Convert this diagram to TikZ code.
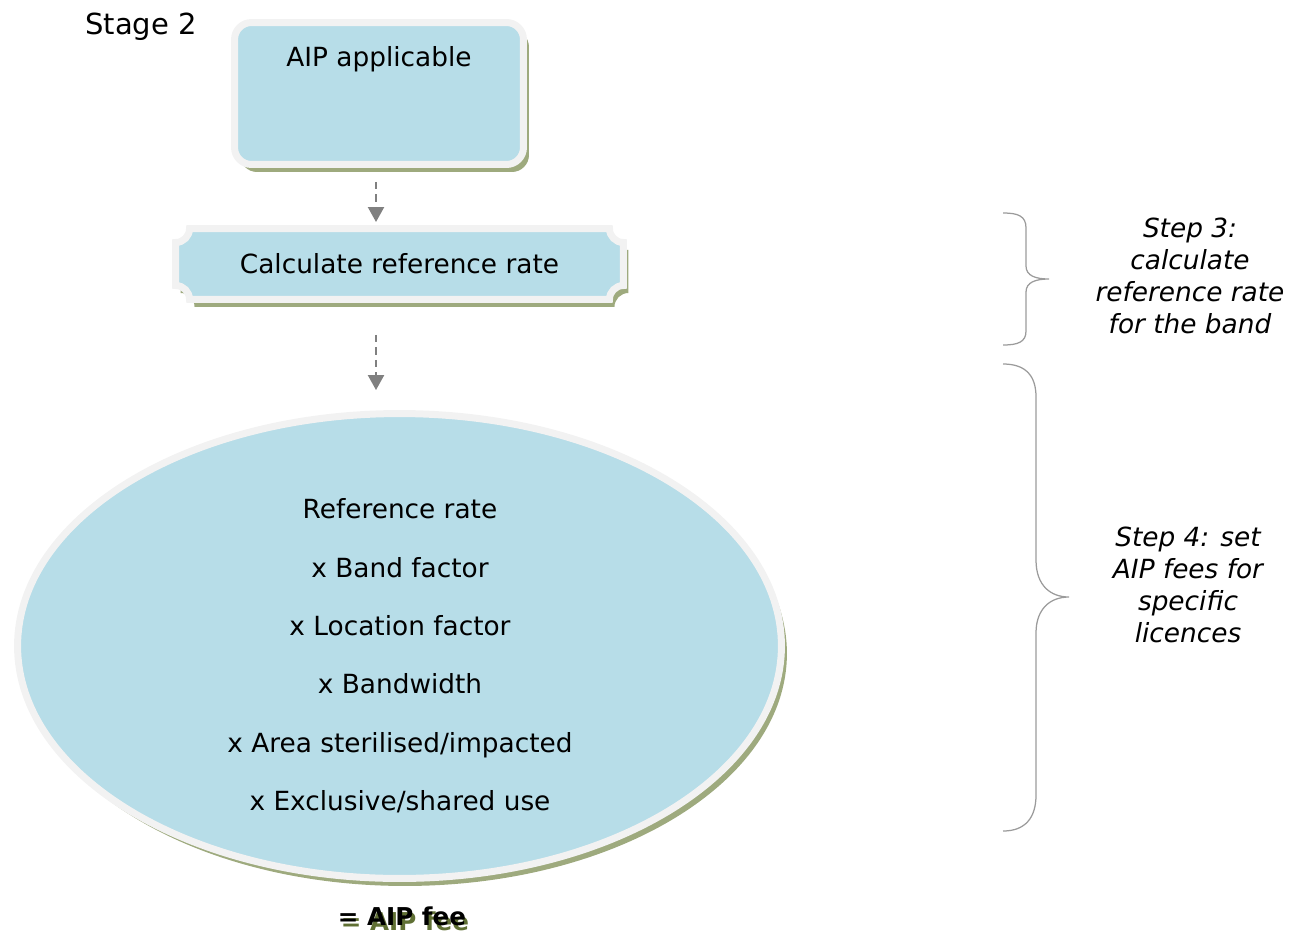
\documentclass[tikz,border=0pt]{standalone}
\usepackage{fontspec}
\setmainfont{DejaVu Sans}
\usetikzlibrary{shapes.geometric, arrows.meta, shadows, backgrounds}
\definecolor{boxblue}{RGB}{183, 221, 232}
\definecolor{rimgrey}{RGB}{242, 242, 242}
\definecolor{shadegreen}{RGB}{158, 170, 126}
\definecolor{feegreen}{RGB}{96, 112, 52}
\definecolor{arrowgrey}{RGB}{128, 128, 128}
\definecolor{bracegrey}{RGB}{155, 155, 155}
\newcommand{\shadowtext}[1]{\makebox[0pt][l]{\raisebox{-0.1cm}{\hspace{0.06cm}\textcolor{feegreen}{#1}}}#1}
\newcommand{\plaque}[2]{([yshift=-#2]#1.north west) arc[start angle=-90, end angle=0, radius=#2]
  -- ([xshift=-#2]#1.north east) arc[start angle=180, end angle=270, radius=#2]
  -- ([yshift=#2]#1.south east) arc[start angle=90, end angle=180, radius=#2]
  -- ([xshift=#2]#1.south west) arc[start angle=0, end angle=90, radius=#2] -- cycle}

\begin{document}
\begin{tikzpicture}[
  x=0.02cm, y=-0.02cm,
  shade/.style={drop shadow={shadow xshift=0.11cm, shadow yshift=-0.15cm, fill=shadegreen, opacity=1}},
  aipbox/.style={rectangle, rounded corners=0.34cm, draw=rimgrey, line width=0.14cm, fill=boxblue,
                 minimum width=5.78cm, minimum height=2.84cm, inner sep=0pt, shade},
  calcbox/.style={rectangle, minimum width=8.96cm, minimum height=1.42cm, inner sep=0pt, outer sep=0pt,
                  font=\fontsize{15}{18}\selectfont},
  termellipse/.style={ellipse, draw=rimgrey, line width=0.14cm, fill=boxblue,
                      minimum width=15.28cm, minimum height=9.3cm, inner sep=0pt, shade},
  boxtext/.style={font=\fontsize{15}{18}\selectfont, align=center, inner sep=0pt},
  termtext/.style={font=\fontsize{15}{33.2}\selectfont, align=center, inner sep=0pt},
  steptext/.style={font=\fontsize{15}{18.1}\selectfont\itshape, align=center, inner sep=0pt},
  flow/.style={-{Triangle[length=0.3cm, width=0.32cm]}, arrowgrey, line width=0.045cm,
               dash pattern=on 0.15cm off 0.1cm},
  brace/.style={bracegrey, line width=0.025cm}
]
  \useasboundingbox (0,0) rectangle (1293,936);

  \node[font=\fontsize{16.5}{20}\selectfont, inner sep=0pt] (stage) at (141,27) {Stage 2};

  \node[aipbox] (aip) at (379,93.5) {};
  \node[boxtext] (aiptext) at (379,59) {AIP applicable};

  \node[calcbox] (calc) at (399.5,264) {Calculate reference rate};
  \begin{pgfonlayer}{background}
    \fill[shadegreen, transform canvas={xshift=0.1cm, yshift=-0.15cm}] \plaque{calc}{0.28cm};
    \filldraw[fill=boxblue, draw=rimgrey, line width=0.14cm] \plaque{calc}{0.28cm};
  \end{pgfonlayer}

  \node[termellipse] (terms) at (399.5,646) {};
  \node[termtext] (factors) at (400,656) {Reference rate\\x Band factor\\x Location factor\\x Bandwidth\\x Area sterilised/impacted\\x Exclusive/shared use};

  \node[font=\fontsize{14}{17}\selectfont\bfseries, inner sep=0pt] (fee) at (402,919) {\shadowtext{= AIP fee}};

  \coordinate (spine) at (376,0);
  \draw[flow, shorten <=0.28cm, shorten >=0.13cm] (aip.south -| spine) -- (calc.north -| spine);
  \draw[flow, shorten <=0.71cm, shorten >=0.4cm] (calc.south -| spine) -- (terms.north -| spine);

  \draw[brace] (1003,213) .. controls (1018,213) and (1026,216) .. (1026,228) -- (1026,266)
    .. controls (1026,276) and (1036,279) .. (1049,279) .. controls (1036,279) and (1026,282) .. (1026,292)
    -- (1026,331) .. controls (1026,342) and (1018,345) .. (1003,345);
  \draw[brace] (1003,364) .. controls (1025,364) and (1036,375) .. (1036,397) -- (1036,560)
    .. controls (1036,585) and (1050,597) .. (1069,597) .. controls (1050,597) and (1036,609) .. (1036,633)
    -- (1036,795) .. controls (1036,818) and (1025,831) .. (1003,831);

  \node[steptext] (step3) at (1190,276) {Step 3:\\calculate\\reference rate\\for the band};
  \node[steptext] (step4) at (1188,585) {Step 4: set\\AIP fees for\\specific\\licences};
\end{tikzpicture}
\end{document}
